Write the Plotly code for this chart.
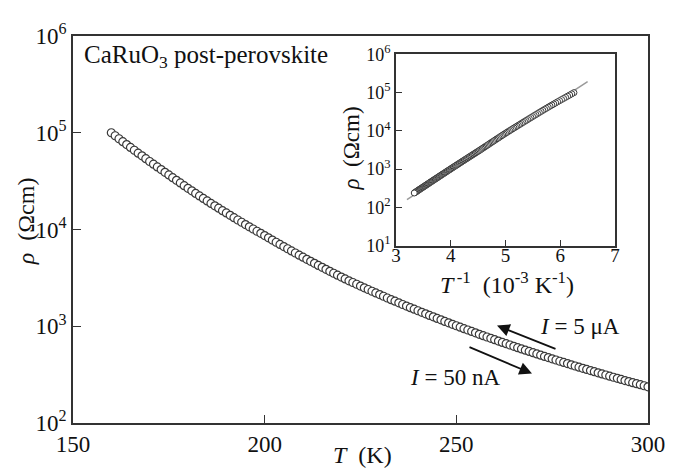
import plotly.graph_objects as go

# ---------------- data ----------------
T_K = [160, 161, 162, 163, 164, 165, 166, 167, 168, 169,
       170, 171, 172, 173, 174, 175, 176, 177, 178, 179,
       180, 181, 182, 183, 184, 185, 186, 187, 188, 189,
       190, 191, 192, 193, 194, 195, 196, 197, 198, 199,
       200, 201, 202, 203, 204, 205, 206, 207, 208, 209,
       210, 211, 212, 213, 214, 215, 216, 217, 218, 219,
       220, 221, 222, 223, 224, 225, 226, 227, 228, 229,
       230, 231, 232, 233, 234, 235, 236, 237, 238, 239,
       240, 241, 242, 243, 244, 245, 246, 247, 248, 249,
       250, 251, 252, 253, 254, 255, 256, 257, 258, 259,
       260, 261, 262, 263, 264, 265, 266, 267, 268, 269,
       270, 271, 272, 273, 274, 275, 276, 277, 278, 279,
       280, 281, 282, 283, 284, 285, 286, 287, 288, 289,
       290, 291, 292, 293, 294, 295, 296, 297, 298, 299,
       300]

# log10 of resistivity (Ohm cm)
log10_rho = [5.000, 4.969, 4.938, 4.908, 4.878, 4.848, 4.819, 4.789, 4.761, 4.732,
             4.703, 4.675, 4.647, 4.619, 4.591, 4.564, 4.536, 4.508, 4.481, 4.453,
             4.426, 4.400, 4.373, 4.347, 4.321, 4.295, 4.270, 4.245, 4.220, 4.195,
             4.171, 4.146, 4.122, 4.098, 4.075, 4.051, 4.028, 4.005, 3.982, 3.960,
             3.937, 3.914, 3.891, 3.868, 3.846, 3.823, 3.801, 3.779, 3.757, 3.735,
             3.714, 3.692, 3.671, 3.650, 3.629, 3.609, 3.588, 3.568, 3.548, 3.528,
             3.508, 3.489, 3.470, 3.452, 3.434, 3.415, 3.397, 3.380, 3.362, 3.344,
             3.327, 3.310, 3.292, 3.275, 3.259, 3.242, 3.225, 3.209, 3.192, 3.176,
             3.160, 3.144, 3.128, 3.112, 3.097, 3.081, 3.066, 3.050, 3.035, 3.020,
             3.005, 2.990, 2.975, 2.961, 2.946, 2.932, 2.917, 2.903, 2.889, 2.875,
             2.861, 2.847, 2.833, 2.820, 2.806, 2.793, 2.779, 2.766, 2.753, 2.740,
             2.727, 2.714, 2.701, 2.688, 2.676, 2.663, 2.651, 2.638, 2.626, 2.614,
             2.601, 2.589, 2.577, 2.565, 2.554, 2.542, 2.530, 2.519, 2.507, 2.496,
             2.484, 2.473, 2.462, 2.450, 2.439, 2.428, 2.417, 2.406, 2.396, 2.385,
             2.374]

# Arrhenius fit line in the inset (end points)
fit_invT = [3.2, 6.5]
fit_rho = [158, 195000]

main_y_ticks = [100, 1000, 10000, 100000, 1000000]
main_y_labels = ["10<sup>2</sup>", "10<sup>3</sup>", "10<sup>4</sup>", "10<sup>5</sup>", "10<sup>6</sup>"]
main_x_ticks = [150, 200, 250, 300]
inset_y_ticks = [10, 100, 1000, 10000, 100000, 1000000]
inset_y_labels = ["10<sup>1</sup>", "10<sup>2</sup>", "10<sup>3</sup>", "10<sup>4</sup>", "10<sup>5</sup>", "10<sup>6</sup>"]
inset_x_ticks = [3, 4, 5, 6, 7]

rho = [10 ** v for v in log10_rho]
inv_T = [1000.0 / t for t in T_K]   # 10^-3 K^-1

FONT = "Liberation Serif, Times New Roman, serif"
AX = "#333333"

fig = go.Figure()

fig.add_trace(go.Scatter(
    x=T_K, y=rho, mode="markers", xaxis="x", yaxis="y",
    marker=dict(symbol="circle", size=8, color="white",
                line=dict(color="#3a3a3a", width=1.2)),
    showlegend=False, hoverinfo="skip"))

fig.add_trace(go.Scatter(
    x=fit_invT, y=fit_rho, mode="lines", xaxis="x2", yaxis="y2",
    line=dict(color="#9a9a9a", width=1.5), showlegend=False, hoverinfo="skip"))

fig.add_trace(go.Scatter(
    x=inv_T, y=rho, mode="markers", xaxis="x2", yaxis="y2",
    marker=dict(symbol="circle", size=6, color="white",
                line=dict(color="#3a3a3a", width=1)),
    showlegend=False, hoverinfo="skip"))

# page body has an 8 px margin: the figure is offset by it
OFF = 8
W, H = 681 - OFF, 470 - OFF
L, R, T, B = 73 - OFF, 33, 24 - OFF, 47
pw, ph = W - L - R, H - T - B


def px(xp):
    """window pixel x -> paper x"""
    return (xp - OFF - L) / pw


def py(yp):
    """window pixel y -> paper y"""
    return (H - B - (yp - OFF)) / ph


axis_common = dict(showgrid=False, zeroline=False, ticks="inside",
                   showline=True, linecolor=AX, linewidth=1.6, mirror=True,
                   tickcolor=AX, tickwidth=1.4)

fig.update_layout(
    width=W, height=H,
    margin=dict(l=L, r=R, t=T, b=B, pad=0),
    paper_bgcolor="white", plot_bgcolor="white",
    font=dict(family=FONT, color="#111111"),
    xaxis=dict(range=[150, 300], tickvals=main_x_ticks, ticklen=8,
               tickfont=dict(size=23, family=FONT), domain=[0, 1],
               **axis_common),
    yaxis=dict(type="log", range=[2, 6], tickvals=main_y_ticks,
               ticktext=main_y_labels, ticklen=8,
               tickfont=dict(size=23, family=FONT), domain=[0, 1],
               **axis_common),
    xaxis2=dict(range=[3, 7], tickvals=inset_x_ticks, ticklen=6,
                tickfont=dict(size=19, family=FONT), ticklabelstandoff=-8,
                domain=[px(396), px(615)], anchor="y2", **axis_common),
    yaxis2=dict(type="log", range=[1, 6], tickvals=inset_y_ticks,
                ticktext=inset_y_labels, ticklen=6,
                tickfont=dict(size=18, family=FONT),
                domain=[py(240), py(43)], anchor="x2", **axis_common),
)

ann = [
    dict(text="CaRuO<sub>3</sub> post-perovskite", x=px(82), y=py(45),
         xanchor="left", yanchor="middle", font=dict(size=25)),
    dict(text="<i>T</i>  (K)", x=px(362), y=py(456), xanchor="center",
         yanchor="middle", font=dict(size=24)),
    dict(text="<i>ρ</i>  (Ωcm)", x=px(26), y=py(215), xanchor="center",
         yanchor="middle", textangle=-90, font=dict(size=24)),
    dict(text="<i>T</i><sup>\u2009-1</sup>  (10<sup>-3</sup> K<sup>-1</sup>)", x=px(507),
         y=py(279), xanchor="center", yanchor="middle", font=dict(size=24)),
    dict(text="<i>ρ</i>  (Ωcm)", x=px(352), y=py(140), xanchor="center",
         yanchor="middle", textangle=-90, font=dict(size=23)),
    dict(text="<i>I</i> = 5 μA", x=px(580), y=py(324), xanchor="center",
         yanchor="middle", font=dict(size=23)),
    dict(text="<i>I</i> = 50 nA", x=px(455), y=py(376), xanchor="center",
         yanchor="middle", font=dict(size=23)),
]
for a in ann:
    a.update(xref="paper", yref="paper", showarrow=False)

# arrows (head at x/y, tail offset by ax/ay pixels)
arrows = [
    dict(x=px(497), y=py(322.5), ax=60, ay=24),
    dict(x=px(532), y=py(372), ax=-64, ay=-27),
]
for a in arrows:
    a.update(xref="paper", yref="paper", text="", showarrow=True,
             arrowhead=2, arrowsize=1.4, arrowwidth=1.8, arrowcolor="#111111")

fig.update_layout(annotations=ann + arrows)

fig.write_html("out.html")
